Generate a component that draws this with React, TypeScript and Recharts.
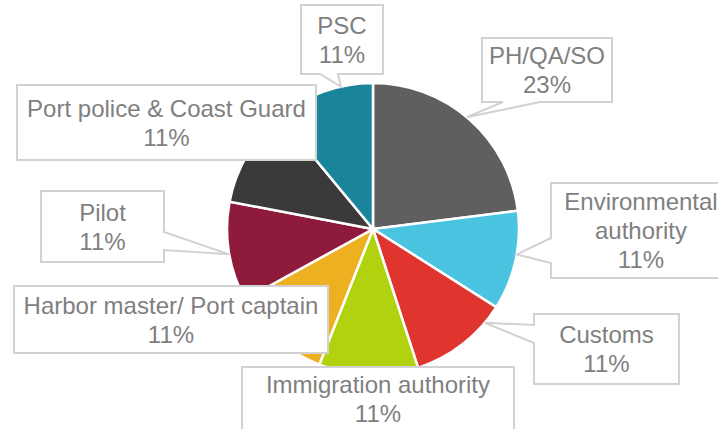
import React from "react";
import { PieChart, Pie, Cell } from "recharts";

const categories = [
  "PH/QA/SO",
  "Environmental authority",
  "Customs",
  "Immigration authority",
  "Harbor master/ Port captain",
  "Pilot",
  "Port police & Coast Guard",
  "PSC",
];
const shares = [23, 11, 11, 11, 11, 11, 11, 11];
const colors = ["#5f5f5f", "#4bc4e1", "#e0352f", "#b1d20f", "#ecb020", "#8e1b3c", "#3a3a3a", "#1a849c"];

const data = categories.map((name, i) => ({ name, value: shares[i] }));

type Layout = {
  x: number; y: number; w: number; h: number;
  wrap?: boolean;
  tail?: { edge: "left" | "right" | "top" | "bottom"; a: number; b: number; angle: number };
};

const layouts: Layout[] = [
  { x: 482, y: 38, w: 130, h: 64, tail: { edge: "bottom", a: 503, b: 540, angle: 50 } },
  { x: 551, y: 183, w: 180, h: 95, wrap: true, tail: { edge: "left", a: 238, b: 263, angle: -10 } },
  { x: 534, y: 314, w: 145, h: 70, tail: { edge: "left", a: 325, b: 343, angle: -40 } },
  { x: 242, y: 367, w: 272, h: 64 },
  { x: 14, y: 286, w: 314, h: 67 },
  { x: 41, y: 191, w: 123, h: 71, tail: { edge: "right", a: 232, b: 250, angle: 190 } },
  { x: 17, y: 85, w: 299, h: 75 },
  { x: 301, y: 5, w: 82, h: 69, tail: { edge: "bottom", a: 320, b: 338, angle: 102.7 } },
];

const RAD = Math.PI / 180;

function calloutPath(l: Layout, tip: [number, number] | null) {
  const { x, y, w, h } = l;
  const r = x + w, btm = y + h;
  const t = l.tail;
  const pts: [number, number][] = [];
  pts.push([x, y]);
  if (t && tip && t.edge === "top") { pts.push([t.a, y], tip, [t.b, y]); }
  pts.push([r, y]);
  if (t && tip && t.edge === "right") { pts.push([r, t.a], tip, [r, t.b]); }
  pts.push([r, btm]);
  if (t && tip && t.edge === "bottom") { pts.push([t.b, btm], tip, [t.a, btm]); }
  pts.push([x, btm]);
  if (t && tip && t.edge === "left") { pts.push([x, t.b], tip, [x, t.a]); }
  return "M" + pts.map((p) => `${p[0]},${p[1]}`).join("L") + "Z";
}

const renderLabel = (props: any) => {
  const { cx, cy, outerRadius, index, value, name } = props;
  const l = layouts[index];
  let tip: [number, number] | null = null;
  if (l.tail) {
    tip = [cx + outerRadius * Math.cos(l.tail.angle * RAD), cy - outerRadius * Math.sin(l.tail.angle * RAD)];
  }
  const lines = l.wrap ? [...String(name).split(" "), `${value}%`] : [String(name), `${value}%`];
  const lh = 29;
  const midY = l.y + l.h / 2;
  const startY = midY - ((lines.length - 1) * lh) / 2;
  return (
    <g key={`lbl-${index}`}>
      <path d={calloutPath(l, tip)} fill="#ffffff" stroke="#d2d2d2" strokeWidth={2} />
      {lines.map((ln, k) => (
        <text
          key={k}
          x={l.x + l.w / 2}
          y={startY + k * lh}
          textAnchor="middle"
          dominantBaseline="central"
          fill="#7f7f7f"
          fontSize={24}
          fontFamily="'Liberation Sans', Arial, sans-serif"
        >
          {ln}
        </text>
      ))}
    </g>
  );
};

export default function App() {
  return (
    <div style={{ position: "absolute", left: 0, top: 0, width: 718, height: 429, background: "#fff" }}>
      <PieChart width={718} height={429} margin={{ top: 0, right: 0, bottom: 0, left: 0 }}>
        <Pie
          data={data}
          dataKey="value"
          nameKey="name"
          cx={373}
          cy={229}
          outerRadius={146}
          startAngle={90}
          endAngle={-270}
          stroke="#ffffff"
          strokeWidth={2.5}
          label={renderLabel}
          labelLine={false}
          isAnimationActive={false}
        >
          {data.map((d, i) => (
            <Cell key={d.name} fill={colors[i]} />
          ))}
        </Pie>
      </PieChart>
    </div>
  );
}
